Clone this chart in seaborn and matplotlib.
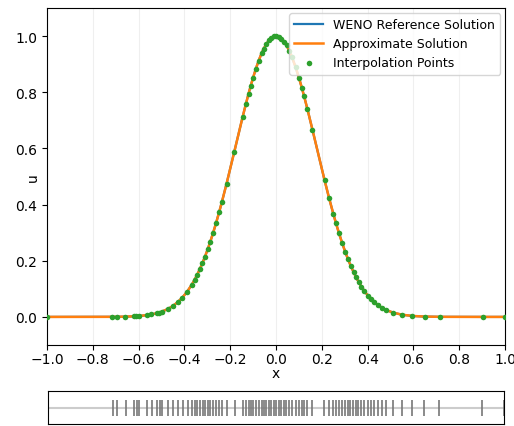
import matplotlib
matplotlib.use("Agg")
import matplotlib.pyplot as plt
import seaborn as sns
import numpy as np
import pandas as pd

# Interpolation points (x positions and values)
x_points = [-1.0, -0.714, -0.696, -0.659, -0.621, -0.611, -0.600, -0.564, -0.544, -0.520,
            -0.510, -0.500, -0.472, -0.450, -0.430, -0.409, -0.388, -0.368, -0.355, -0.345,
            -0.333, -0.322, -0.310, -0.298, -0.288, -0.275, -0.262, -0.248, -0.236, -0.216,
            -0.182, -0.146, -0.132, -0.120, -0.110, -0.100, -0.088, -0.076, -0.063, -0.054,
            -0.042, -0.031, -0.020, -0.009, 0.002, 0.013, 0.024, 0.035, 0.046, 0.058,
            0.069, 0.086, 0.101, 0.113, 0.123, 0.137, 0.159, 0.212, 0.232, 0.251,
            0.262, 0.275, 0.289, 0.303, 0.314, 0.326, 0.339, 0.350, 0.361, 0.373,
            0.386, 0.402, 0.415, 0.430, 0.447, 0.464, 0.482, 0.512, 0.551, 0.596,
            0.650, 0.716, 0.905, 1.0]
u_points = [0.0000, 0.0003, 0.0004, 0.0010, 0.0021, 0.0025, 0.0032, 0.0062, 0.0088, 0.0132,
            0.0156, 0.0183, 0.0283, 0.0392, 0.0519, 0.0688, 0.0899, 0.1145, 0.1332, 0.1490,
            0.1696, 0.1903, 0.2149, 0.2415, 0.2653, 0.2982, 0.3335, 0.3738, 0.4102, 0.4740,
            0.5886, 0.7110, 0.7567, 0.7942, 0.8240, 0.8520, 0.8835, 0.9117, 0.9385, 0.9544,
            0.9722, 0.9847, 0.9936, 0.9987, 1.0000, 0.9973, 0.9908, 0.9806, 0.9667, 0.9476,
            0.9267, 0.8884, 0.8494, 0.8152, 0.7850, 0.7406, 0.6673, 0.4872, 0.4226, 0.3649,
            0.3335, 0.2982, 0.2628, 0.2302, 0.2065, 0.1826, 0.1590, 0.1409, 0.1243, 0.1079,
            0.0922, 0.0753, 0.0636, 0.0519, 0.0409, 0.0319, 0.0243, 0.0151, 0.0078, 0.0034,
            0.0012, 0.0003, 0.0000, 0.0000]

x_ticks = [-1.0, -0.8, -0.6, -0.4, -0.2, 0.0, 0.2, 0.4, 0.6, 0.8, 1.0]
y_ticks = [0.0, 0.2, 0.4, 0.6, 0.8, 1.0]

df = pd.DataFrame({"x": x_points, "u": u_points})

fig = plt.figure(figsize=(5.14, 4.27), dpi=100)
ax = fig.add_axes([47 / 514, 81 / 427, 458 / 514, 337 / 427])
ax_rug = fig.add_axes([48 / 514, 2 / 427, 456 / 514, 33 / 427])

sns.lineplot(data=df, x="x", y="u", ax=ax, color="tab:blue", lw=1.6,
             label="WENO Reference Solution", estimator=None, sort=False)
sns.lineplot(data=df, x="x", y="u", ax=ax, color="tab:orange", lw=1.8,
             label="Approximate Solution", estimator=None, sort=False)
sns.scatterplot(data=df, x="x", y="u", ax=ax, color="tab:green", s=16,
                linewidth=0, label="Interpolation Points", zorder=3)

ax.set_xlim(-1.0, 1.0)
ax.set_ylim(-0.1, 1.1)
ax.set_xticks(x_ticks)
ax.set_yticks(y_ticks)
ax.tick_params(axis="x", pad=1.5)
ax.set_xlabel("x", labelpad=0)
ax.set_ylabel("u")
ax.yaxis.set_label_coords(-0.016, 0.5)
ax.grid(axis="x", color="#efefef", lw=0.8)
ax.set_axisbelow(True)
ax.legend(loc="upper right", borderaxespad=0.4, fontsize=9, handlelength=2.3)

# Rug of the interpolation points
ax_rug.axhline(0, color="#cccccc", lw=1.5, zorder=1)
sns.scatterplot(x=x_points, y=[0] * len(x_points), ax=ax_rug, marker="|",
                s=130, color="#777777", linewidth=1.2, zorder=2)
ax_rug.set_xlim(-1.0, 1.0)
ax_rug.set_ylim(-1, 1)
ax_rug.set_xticks([])
ax_rug.set_yticks([])

fig.savefig("out.png", dpi=100)
